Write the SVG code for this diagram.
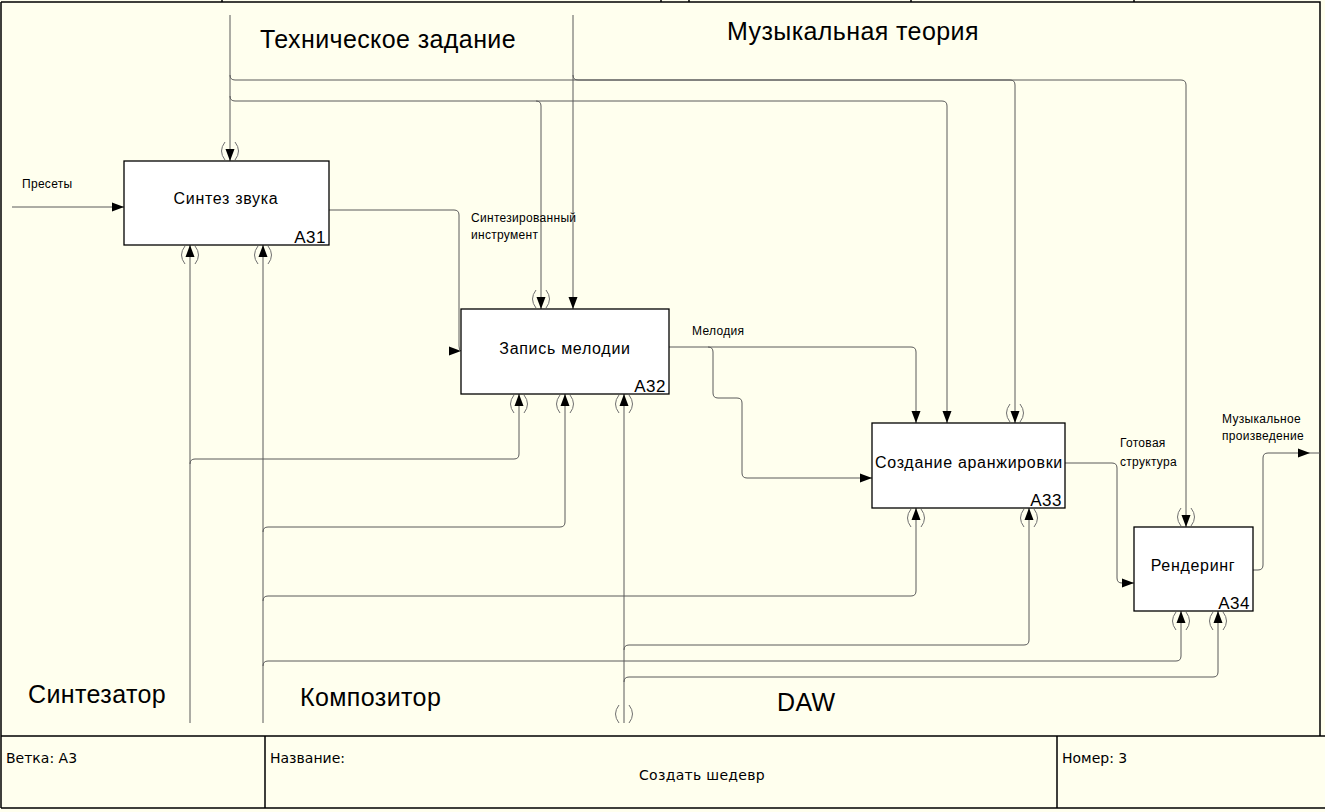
<svg xmlns="http://www.w3.org/2000/svg" width="1325" height="812" viewBox="0 0 1325 812">
<style>
.bg{fill:#FFFFEE}
.frame{fill:none;stroke:#000;stroke-width:1.5}
.box{fill:#fff;stroke:#000;stroke-width:1.3}
.ln{fill:none;stroke:#5a5a5a;stroke-width:1}
.arr{fill:none;stroke:#5a5a5a;stroke-width:1;marker-end:url(#ah)}
.tun{fill:none;stroke:#707070;stroke-width:1}
.bt{font-family:"Liberation Sans",Arial,sans-serif;font-size:16px;letter-spacing:0.7px;fill:#000}
.id{font-family:"Liberation Sans",Arial,sans-serif;font-size:17px;letter-spacing:0.5px;fill:#000;text-anchor:end}
.big{font-family:"Liberation Sans",Arial,sans-serif;font-size:25px;letter-spacing:0.4px;fill:#000}
.sm{font-family:"Liberation Sans",Arial,sans-serif;font-size:12px;letter-spacing:0.3px;fill:#000}
.ft{font-family:"DejaVu Sans",sans-serif;font-size:14px;fill:#000}
</style>
<defs>
<marker id="ah" markerUnits="userSpaceOnUse" markerWidth="12" markerHeight="9" refX="12" refY="4.5" orient="auto" overflow="visible">
<path d="M0,0 L12,4.5 L0,9 z" fill="#000"/>
</marker>
<g id="tun">
<path class="tun" d="M-5,-19 Q-12,-10 -5,-1 M5,-19 Q12,-10 5,-1"/>
</g>
</defs>
<rect class="bg" x="0" y="0" width="1325" height="812"/>
<g id="frame">
<path class="frame" d="M1,2 H1320 V736 M1,2 V808"/>
<path class="frame" d="M222,0 V2 M661,0 V2 M689,0 V2 M911,0 V2 M1134,0 V2"/>
<path class="frame" d="M1,736 H1325 M1,808 H1325 M265,736 V808 M1057,736 V808" stroke-width="2"/>
<text class="ft" x="6" y="763">Ветка: A3</text>
<text class="ft" x="270" y="763">Название:</text>
<text class="ft" x="702" y="780" text-anchor="middle" letter-spacing="0.3">Создать шедевр</text>
<text class="ft" x="1062" y="763">Номер: 3</text>
</g>
<g id="connectors">
<path class="arr" d="M230,15 V161"/>
<path class="arr" d="M230,75 Q230,80 235,80 H1010 Q1015,80 1015,85 V423"/>
<path class="arr" d="M230,96 Q230,101 235,101 H942 Q947,101 947,106 V423"/>
<path class="arr" d="M536,101 Q541,101 541,106 V309"/>
<path class="arr" d="M573,15 V309"/>
<path class="arr" d="M573,75 Q573,80 578,80 H1181 Q1186,80 1186,85 V527"/>
<path class="arr" d="M12,207 H124"/>
<path class="arr" d="M329,210 H454 Q459,210 459,215 V346 Q459,351 461,351"/>
<path class="arr" d="M669,347 H911 Q916,347 916,352 V423"/>
<path class="arr" d="M708,347 Q713,347 713,352 V393 Q713,398 718,398 H737 Q742,398 742,403 V473 Q742,478 747,478 H872"/>
<path class="arr" d="M1065,463 H1112 Q1117,463 1117,468 V578 Q1117,583 1122,583 H1134"/>
<path class="arr" d="M1253,570 H1258 Q1263,570 1263,565 V458 Q1263,453 1268,453 H1310"/>
<path class="ln" d="M1310,453 H1320"/>
<path class="arr" d="M190,723 V245"/>
<path class="arr" d="M190,464 Q190,459 195,459 H514 Q519,459 519,454 V394"/>
<path class="arr" d="M263,723 V245"/>
<path class="arr" d="M263,532 Q263,527 268,527 H560 Q565,527 565,522 V394"/>
<path class="arr" d="M263,601 Q263,596 268,596 H911 Q916,596 916,591 V508"/>
<path class="arr" d="M263,666 Q263,661 268,661 H1176 Q1181,661 1181,656 V611"/>
<path class="arr" d="M624,723 V394"/>
<path class="arr" d="M624,650 Q624,645 629,645 H1024 Q1029,645 1029,640 V508"/>
<path class="arr" d="M624,682 Q624,677 629,677 H1213 Q1218,677 1218,672 V611"/>
<use href="#tun" x="230" y="161"/>
<use href="#tun" x="541" y="309"/>
<use href="#tun" x="1015" y="423"/>
<use href="#tun" x="1186" y="527"/>
<use href="#tun" x="624" y="724"/>
<use href="#tun" transform="translate(190,245) scale(1,-1)"/>
<use href="#tun" transform="translate(263,245) scale(1,-1)"/>
<use href="#tun" transform="translate(519,394) scale(1,-1)"/>
<use href="#tun" transform="translate(565,394) scale(1,-1)"/>
<use href="#tun" transform="translate(624,394) scale(1,-1)"/>
<use href="#tun" transform="translate(916,508) scale(1,-1)"/>
<use href="#tun" transform="translate(1029,508) scale(1,-1)"/>
<use href="#tun" transform="translate(1181,611) scale(1,-1)"/>
<use href="#tun" transform="translate(1218,611) scale(1,-1)"/>
<text class="big" x="260" y="48">Техническое задание</text>
<text class="big" x="727" y="40">Музыкальная теория</text>
<text class="big" x="28" y="703">Синтезатор</text>
<text class="big" x="300" y="706">Композитор</text>
<text class="big" x="777" y="711">DAW</text>
<text class="sm" x="22" y="188">Пресеты</text>
<text class="sm" x="471" y="222">Синтезированный</text>
<text class="sm" x="471" y="239">инструмент</text>
<text class="sm" x="692" y="335">Мелодия</text>
<text class="sm" x="1120" y="447">Готовая</text>
<text class="sm" x="1120" y="466">структура</text>
<text class="sm" x="1222" y="423">Музыкальное</text>
<text class="sm" x="1222" y="440">произведение</text>
</g>
<g id="A31">
<rect class="box" x="124" y="161" width="205" height="84"/>
<text class="bt" x="226" y="204" text-anchor="middle">Синтез звука</text>
<text class="id" x="326" y="243">A31</text>
</g>
<g id="A32">
<rect class="box" x="461" y="309" width="208" height="85"/>
<text class="bt" x="565" y="354" text-anchor="middle">Запись мелодии</text>
<text class="id" x="666" y="392">A32</text>
</g>
<g id="A33">
<rect class="box" x="872" y="423" width="193" height="85"/>
<text class="bt" x="969" y="468" text-anchor="middle">Создание аранжировки</text>
<text class="id" x="1062" y="506">A33</text>
</g>
<g id="A34">
<rect class="box" x="1134" y="527" width="119" height="84"/>
<text class="bt" x="1193" y="571" text-anchor="middle">Рендеринг</text>
<text class="id" x="1250" y="609">A34</text>
</g>
</svg>
